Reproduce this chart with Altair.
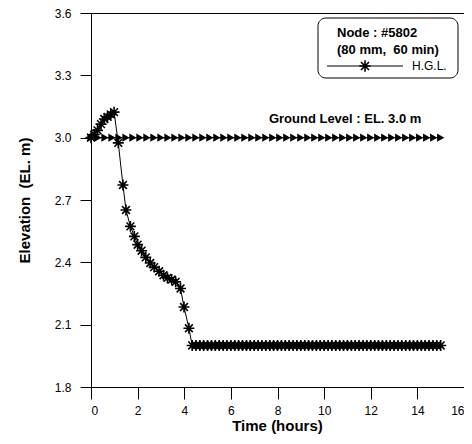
import altair as alt
import pandas as pd

# ---------------- data ----------------
hgl_time = [0.0, 0.14, 0.28, 0.43, 0.57, 0.71, 0.85, 0.99, 1.17, 1.37,
            1.5, 1.69, 1.86, 2.0, 2.17, 2.35, 2.54, 2.71, 2.92, 3.11,
            3.28, 3.46, 3.63, 3.84, 3.99, 4.2, 4.34,
            4.5, 4.67, 4.83, 5.0, 5.17, 5.33, 5.5, 5.67,
            5.83, 6.0, 6.17, 6.33, 6.5, 6.67, 6.83, 7.0,
            7.17, 7.33, 7.5, 7.67, 7.83, 8.0, 8.17, 8.33,
            8.5, 8.67, 8.83, 9.0, 9.17, 9.33, 9.5, 9.67,
            9.83, 10.0, 10.17, 10.33, 10.5, 10.67, 10.83, 11.0,
            11.17, 11.33, 11.5, 11.67, 11.83, 12.0, 12.17, 12.33,
            12.5, 12.67, 12.83, 13.0, 13.17, 13.33, 13.5, 13.67,
            13.83, 14.0, 14.17, 14.33, 14.5, 14.67, 14.83, 15.0]
hgl_elev = [3.0, 3.015, 3.035, 3.065, 3.09, 3.1, 3.112, 3.123, 2.975, 2.772,
            2.652, 2.573, 2.525, 2.485, 2.456, 2.424, 2.397, 2.377, 2.357, 2.338,
            2.325, 2.317, 2.306, 2.274, 2.185, 2.083, 2.0,
            2.0, 2.0, 2.0, 2.0, 2.0, 2.0, 2.0, 2.0,
            2.0, 2.0, 2.0, 2.0, 2.0, 2.0, 2.0, 2.0,
            2.0, 2.0, 2.0, 2.0, 2.0, 2.0, 2.0, 2.0,
            2.0, 2.0, 2.0, 2.0, 2.0, 2.0, 2.0, 2.0,
            2.0, 2.0, 2.0, 2.0, 2.0, 2.0, 2.0, 2.0,
            2.0, 2.0, 2.0, 2.0, 2.0, 2.0, 2.0, 2.0,
            2.0, 2.0, 2.0, 2.0, 2.0, 2.0, 2.0, 2.0,
            2.0, 2.0, 2.0, 2.0, 2.0, 2.0, 2.0, 2.0]

ground_time = [0.0, 0.3, 0.6, 0.9, 1.2, 1.5, 1.8, 2.1, 2.4, 2.7,
               3.0, 3.3, 3.6, 3.9, 4.2, 4.5, 4.8, 5.1, 5.4, 5.7,
               6.0, 6.3, 6.6, 6.9, 7.2, 7.5, 7.8, 8.1, 8.4, 8.7,
               9.0, 9.3, 9.6, 9.9, 10.2, 10.5, 10.8, 11.1, 11.4, 11.7,
               12.0, 12.3, 12.6, 12.9, 13.2, 13.5, 13.8, 14.1, 14.4, 14.7,
               15.0]
ground_elev = [3.0, 3.0, 3.0, 3.0, 3.0, 3.0, 3.0, 3.0, 3.0, 3.0,
               3.0, 3.0, 3.0, 3.0, 3.0, 3.0, 3.0, 3.0, 3.0, 3.0,
               3.0, 3.0, 3.0, 3.0, 3.0, 3.0, 3.0, 3.0, 3.0, 3.0,
               3.0, 3.0, 3.0, 3.0, 3.0, 3.0, 3.0, 3.0, 3.0, 3.0,
               3.0, 3.0, 3.0, 3.0, 3.0, 3.0, 3.0, 3.0, 3.0, 3.0,
               3.0]

x_ticks = [0, 1, 2, 3, 4, 5, 6, 7, 8, 9, 10, 11, 12, 13, 14, 15, 16]
y_ticks = [1.8, 1.95, 2.1, 2.25, 2.4, 2.55, 2.7, 2.85, 3.0, 3.15, 3.3, 3.45, 3.6]

ground_label = "Ground Level : EL. 3.0 m"
legend_title = ["Node : #5802", "(80 mm,\u00a0 60 min)"]
legend_entry = "H.G.L."
x_title = "Time (hours)"
y_title = "Elevation \u00a0(EL. m)"

# ---------------- chart ----------------
FONT = "Liberation Sans"
ASTERISK = "M0,-1L0,1M-1,0L1,0M-0.71,-0.71L0.71,0.71M-0.71,0.71L0.71,-0.71"

hgl = pd.DataFrame({"t": hgl_time, "e": hgl_elev})
ground = pd.DataFrame({"t": ground_time, "e": ground_elev})
one = pd.DataFrame({"k": [0]})

x_enc = alt.X("t:Q", scale=alt.Scale(domain=[0, 16], nice=False, zero=False),
              axis=alt.Axis(values=x_ticks, title=x_title, grid=False,
                            labelExpr="datum.value % 2 === 0 ? datum.label : ''",
                            tickSize={"condition": {"test": "datum.value % 2 === 0", "value": 12}, "value": 7},
                            labelPadding=6,
                            titleX=186, titleY=38, titleBaseline="middle", titleAlign="center"))
y_enc = alt.Y("e:Q", scale=alt.Scale(domain=[1.8, 3.6], nice=False, zero=False),
              axis=alt.Axis(values=y_ticks, title=y_title, grid=False, format=".1f",
                            labelExpr="abs(round(datum.value*100)) % 30 === 0 ? datum.label : ''",
                            tickSize={"condition": {"test": "abs(round(datum.value*100)) % 30 === 0", "value": 11}, "value": 6},
                            labelPadding=9,
                            titleX=-67, titleY=187, titleAngle=270, titleBaseline="middle", titleAlign="center"))

ground_line = alt.Chart(ground).mark_line(color="black", strokeWidth=1).encode(x=x_enc, y=y_enc)
ground_pts = alt.Chart(ground).mark_point(shape="triangle-right", filled=True, color="black",
                                          size=70, opacity=1).encode(x=x_enc, y=y_enc)
hgl_line = alt.Chart(hgl).mark_line(color="black", strokeWidth=1).encode(x=x_enc, y=y_enc)
hgl_pts = alt.Chart(hgl).mark_point(shape=ASTERISK, filled=False, color="black", strokeWidth=1.6,
                                    size=120, opacity=1).encode(x=x_enc, y=y_enc)

ground_text = alt.Chart(one).mark_text(text=ground_label, font=FONT, fontSize=13, fontWeight="bold",
                                       color="black", align="center", baseline="middle").encode(
    x=alt.datum(10.9), y=alt.datum(3.09))

legend_box = alt.Chart(one).mark_rect(fill="white", stroke="black", strokeWidth=1, cornerRadius=8).encode(
    x=alt.value(227), x2=alt.value(367), y=alt.value(5), y2=alt.value(65))
legend_t1 = alt.Chart(one).mark_text(text=legend_title[0], font=FONT, fontSize=13, fontWeight="bold",
                                     color="black", align="left", baseline="middle").encode(
    x=alt.value(246), y=alt.value(20))
legend_t2 = alt.Chart(one).mark_text(text=legend_title[1], font=FONT, fontSize=13, fontWeight="bold",
                                     color="black", align="left", baseline="middle").encode(
    x=alt.value(246), y=alt.value(37))
legend_rule = alt.Chart(one).mark_rule(color="black", strokeWidth=1).encode(
    x=alt.value(236), x2=alt.value(312), y=alt.value(53))
legend_sym = alt.Chart(one).mark_point(shape=ASTERISK, filled=False, color="black", strokeWidth=1.6,
                                       size=130, opacity=1).encode(x=alt.value(274), y=alt.value(53))
legend_lab = alt.Chart(one).mark_text(text=legend_entry, font=FONT, fontSize=12, color="black",
                                      align="left", baseline="middle").encode(
    x=alt.value(321), y=alt.value(53))

chart = alt.layer(
    ground_line, ground_pts, hgl_line, hgl_pts, ground_text,
    legend_box, legend_t1, legend_t2, legend_rule, legend_sym, legend_lab
).properties(
    width=373, height=374,
    autosize=alt.AutoSizeParams(type="none"),
    padding={"left": 83, "top": 5, "right": 0, "bottom": 49},
).configure_view(
    stroke="black", strokeWidth=1
).configure_axis(
    domainColor="black", domainWidth=1, tickColor="black", tickWidth=1,
    labelFont=FONT, labelFontSize=12, labelColor="black",
    titleFont=FONT, titleFontSize=15, titleFontWeight="bold", titleColor="black",
)

chart.save("out.html", embed_options={"renderer": "svg", "actions": False})
